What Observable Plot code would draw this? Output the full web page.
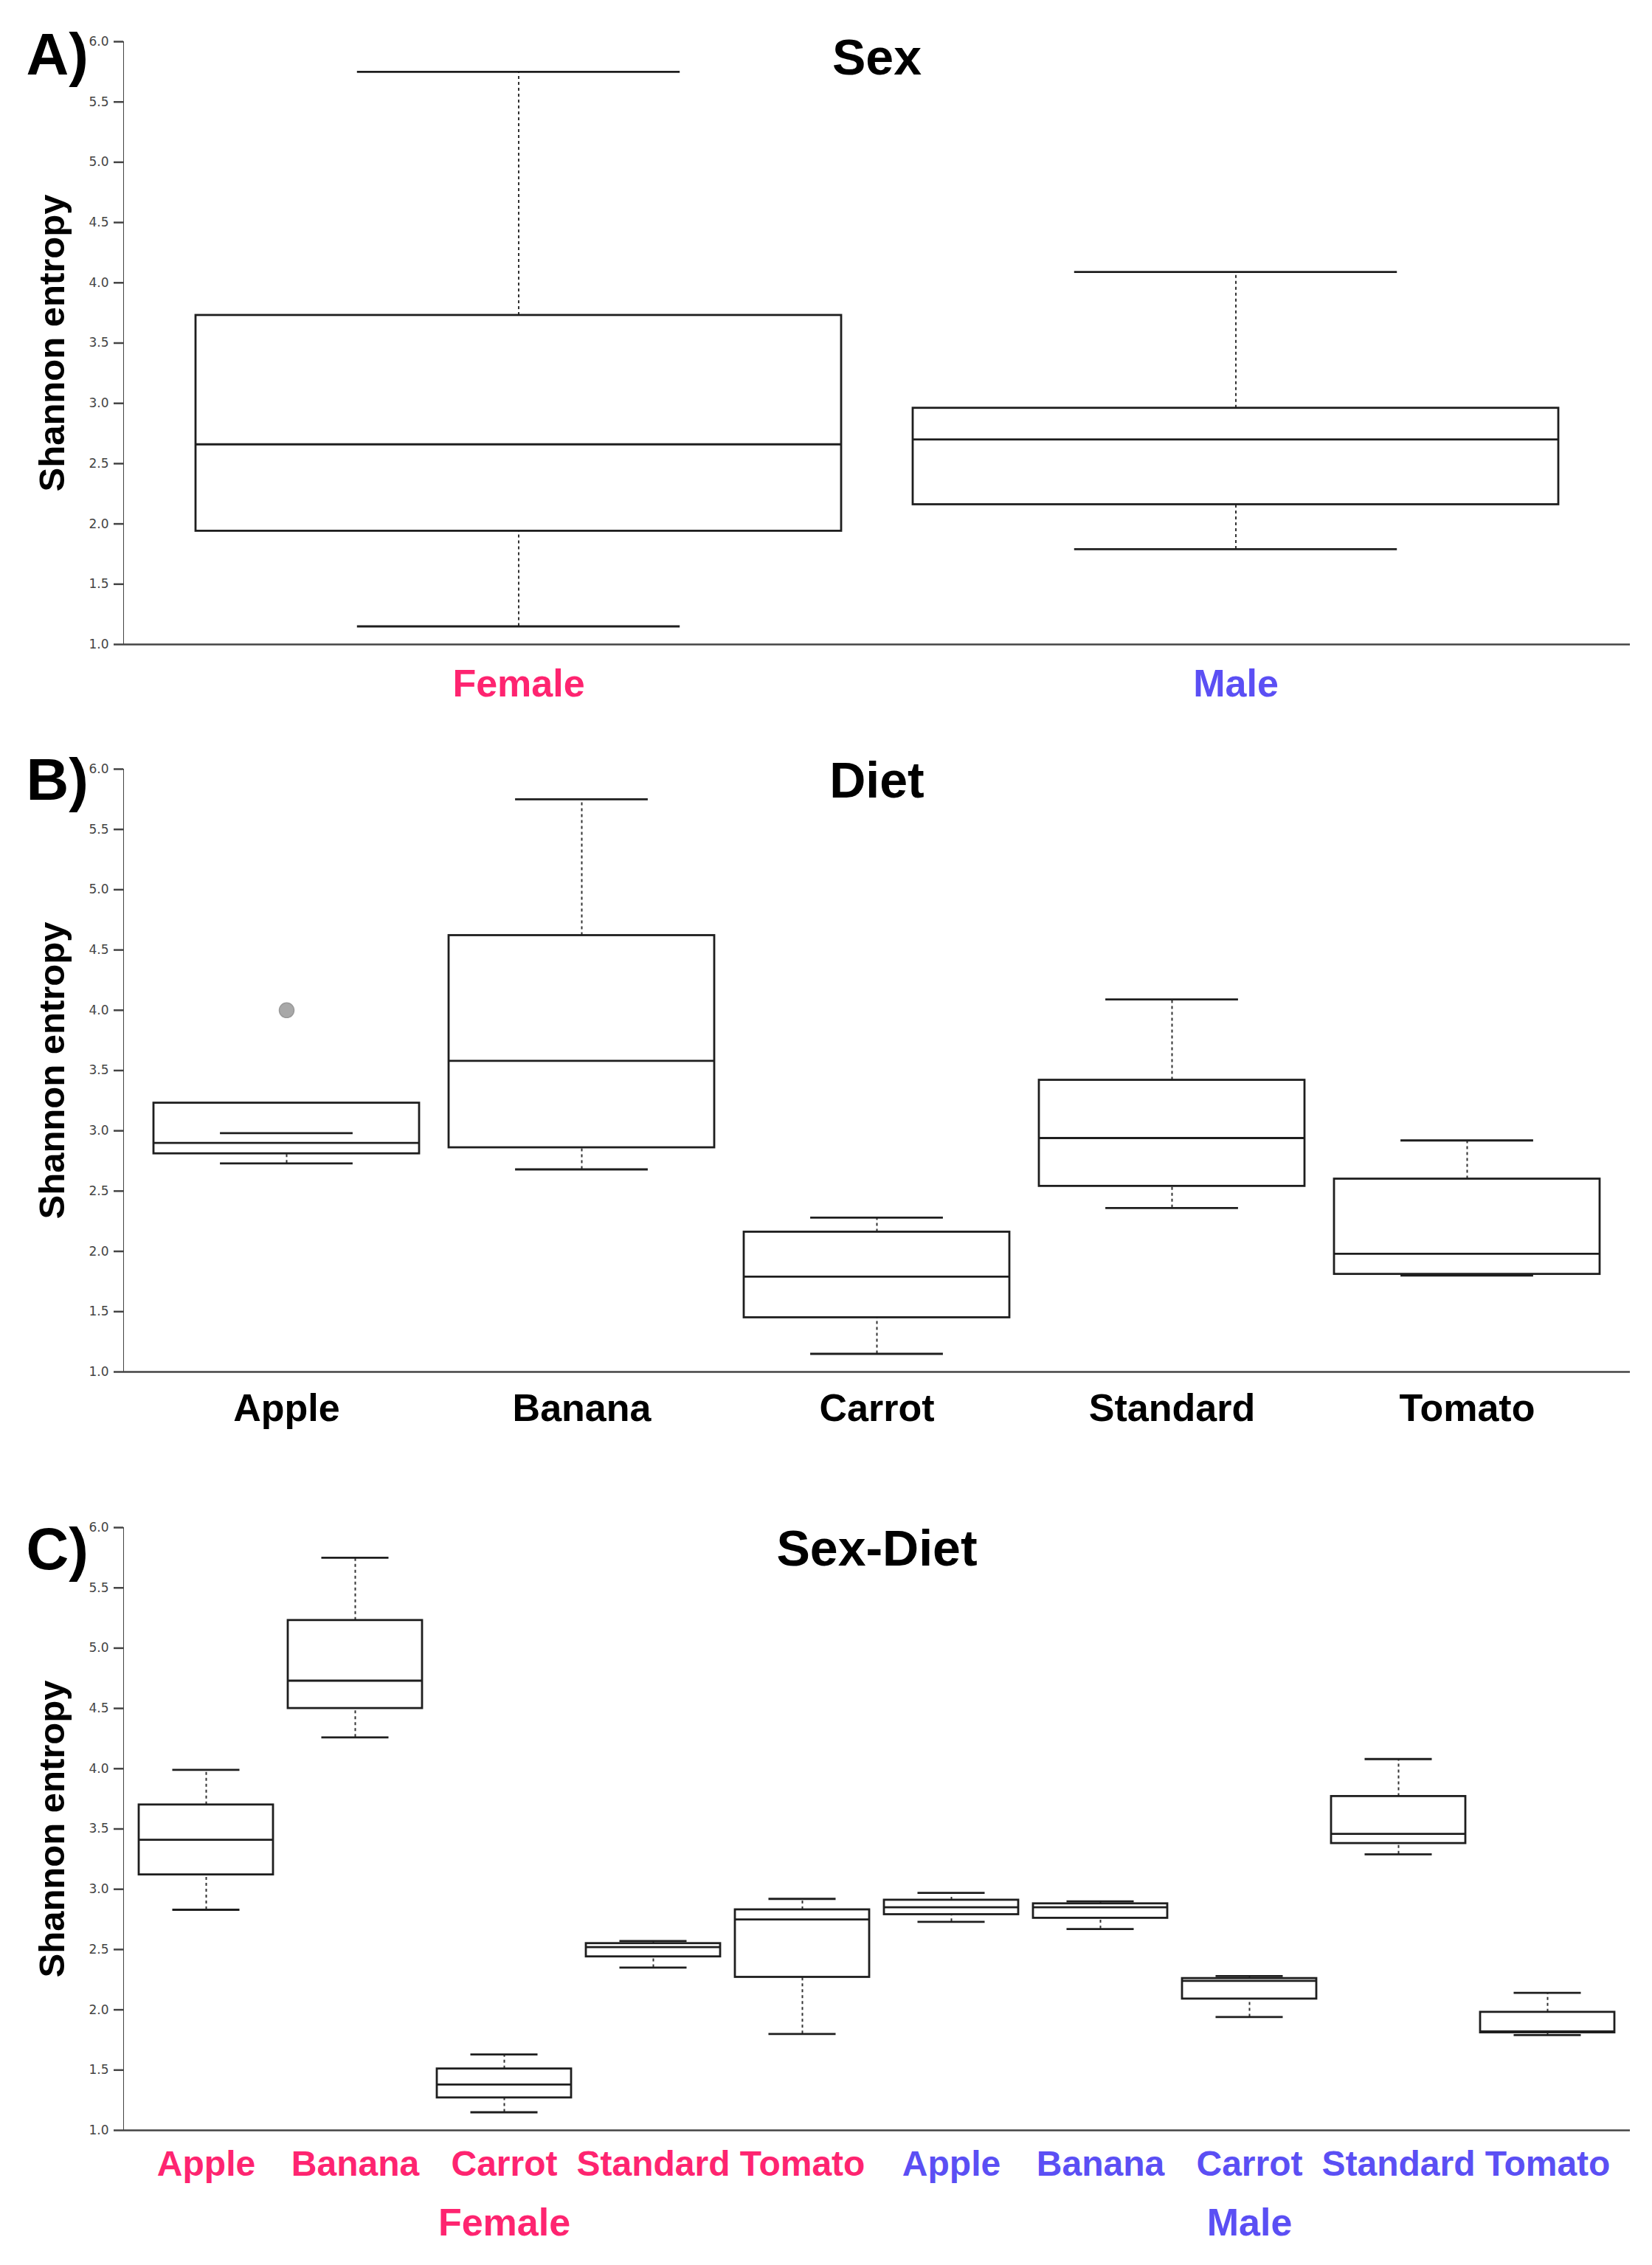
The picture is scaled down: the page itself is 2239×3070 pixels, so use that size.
<!DOCTYPE html>
<html>
<head>
<meta charset="utf-8">
<script src="https://cdn.jsdelivr.net/npm/d3@7"></script>
<script src="https://cdn.jsdelivr.net/npm/@observablehq/plot@0.6"></script>
<style>
  html, body { margin: 0; padding: 0; background: #fff; }
  #root { position: relative; width: 2239px; height: 3070px; }
  #root > svg { position: absolute; left: 0; }
  #root svg g[aria-label^="y-axis"] line,
  #root svg g[aria-label^="y-axis"] path { stroke-width: 2.5px; }
</style>
</head>
<body>
<div id="root"></div>
<script>
// ---------- data ----------
const yTicks = [1.0, 1.5, 2.0, 2.5, 3.0, 3.5, 4.0, 4.5, 5.0, 5.5, 6.0];
const axisTitle = "Shannon entropy";

// Panel A: Sex
const sexCats = ["Female", "Male"];
const sexLow  = [1.15, 1.79];
const sexQ1   = [1.94, 2.16];
const sexMed  = [2.66, 2.70];
const sexQ3   = [3.73, 2.96];
const sexHigh = [5.75, 4.09];

// Panel B: Diet
const dietCats = ["Apple", "Banana", "Carrot", "Standard", "Tomato"];
const dietLow  = [2.73, 2.68, 1.15, 2.36, 1.80];
const dietQ1   = [2.81, 2.86, 1.45, 2.54, 1.81];
const dietMed  = [2.90, 3.58, 1.79, 2.94, 1.98];
const dietQ3   = [3.23, 4.62, 2.16, 3.42, 2.60];
const dietHigh = [2.98, 5.75, 2.28, 4.09, 2.92];
const dietOutlierCats = ["Apple"];
const dietOutlierVals = [4.00];

// Panel C: Sex-Diet
const sdSex  = ["Female", "Female", "Female", "Female", "Female", "Male", "Male", "Male", "Male", "Male"];
const sdDiet = ["Apple", "Banana", "Carrot", "Standard", "Tomato", "Apple", "Banana", "Carrot", "Standard", "Tomato"];
const sdLow  = [2.83, 4.26, 1.15, 2.35, 1.80, 2.73, 2.67, 1.94, 3.29, 1.79];
const sdQ1   = [3.12, 4.50, 1.27, 2.44, 2.27, 2.79, 2.76, 2.09, 3.38, 1.81];
const sdMed  = [3.41, 4.73, 1.38, 2.52, 2.75, 2.85, 2.85, 2.24, 3.46, 1.82];
const sdQ3   = [3.70, 5.23, 1.51, 2.55, 2.83, 2.91, 2.88, 2.26, 3.77, 1.98];
const sdHigh = [3.99, 5.75, 1.63, 2.57, 2.92, 2.97, 2.90, 2.28, 4.08, 2.14];
const groupLabels = ["Female", "Male"];

const sexColor = {Female: "#fe2470", Male: "#5b4ff4"};

// ---------- layout ----------
const W = 2239, ML = 167, MR = 30;
const FONT = "Liberation Sans, Arial, Helvetica, sans-serif";

function makeRows(keys, labels, colors, low, q1, med, q3, high) {
  return keys.map((key, i) => ({key, label: labels[i], color: colors[i], low: low[i], q1: q1[i], med: med[i], q3: q3[i], high: high[i]}));
}

function panel(opts) {
  const {top, height, marginTop, marginBottom, rows, outliers = [], letter, letterDy, title, titleDy,
         labelSize, labelDy, groups = [], groupDy = 0} = opts;
  const n = rows.length;
  const plotW = W - ML - MR;
  const bw = plotW / (n - 0.1 + 0.2) * 0.9;
  const capInset = bw / 4;
  const upper = rows.filter(d => d.high > d.q3);
  const lower = rows.filter(d => d.low < d.q1);
  const stroke = "#1e1e1e";
  const sw = 2.8;
  const chart = Plot.plot({
    width: W, height, marginTop, marginBottom, marginLeft: ML, marginRight: MR,
    style: {fontFamily: "DejaVu Sans, sans-serif", fontSize: "17px", background: "white", color: "#444", overflow: "visible"},
    color: {type: "identity"},
    x: {type: "band", domain: rows.map(d => d.key), padding: 0.1, axis: null},
    y: {domain: [1, 6], ticks: yTicks, tickFormat: d3.format(".1f"), tickSize: 13, tickPadding: 7, line: true, label: null},
    marks: [
      Plot.ruleY([1], {stroke: "#444", strokeWidth: 2.5}),
      Plot.ruleX(upper, {x: "key", y1: "q3", y2: "high", stroke: "#333", strokeWidth: 2, strokeDasharray: "4,4"}),
      Plot.ruleX(lower, {x: "key", y1: "low", y2: "q1", stroke: "#333", strokeWidth: 2, strokeDasharray: "4,4"}),
      Plot.barY(rows, {x: "key", y1: "q1", y2: "q3", fill: "white", stroke, strokeWidth: sw}),
      Plot.tickY(rows, {x: "key", y: "med", stroke, strokeWidth: sw}),
      Plot.tickY(rows, {x: "key", y: "high", insetLeft: capInset, insetRight: capInset, stroke, strokeWidth: sw}),
      Plot.tickY(rows, {x: "key", y: "low", insetLeft: capInset, insetRight: capInset, stroke, strokeWidth: sw}),
      Plot.dot(outliers, {x: "key", y: "v", r: 10, fill: "#a8a8a8", stroke: "#999"}),
      Plot.text(rows, {x: "key", text: "label", fill: "color", frameAnchor: "bottom", dy: labelDy, lineAnchor: "top",
                       fontSize: labelSize, fontWeight: "bold", fontFamily: FONT}),
      Plot.text(groups, {x: "key", text: "label", fill: "color", frameAnchor: "bottom", dy: groupDy, lineAnchor: "top",
                         fontSize: 52, fontWeight: "bold", fontFamily: FONT}),
      Plot.text([axisTitle], {frameAnchor: "left", dx: -81, rotate: -90, lineAnchor: "bottom", textAnchor: "middle",
                              fontSize: 49, fontWeight: "bold", fill: "black", fontFamily: FONT}),
      Plot.text([letter], {frameAnchor: "top-left", dx: 35 - ML, dy: letterDy, lineAnchor: "bottom", textAnchor: "start",
                           fontSize: 80, fontWeight: "bold", fill: "black", fontFamily: FONT}),
      Plot.text([title], {frameAnchor: "top", dy: titleDy, lineAnchor: "bottom", textAnchor: "middle",
                          fontSize: 68, fontWeight: "bold", fill: "black", fontFamily: FONT})
    ]
  });
  chart.style.top = top + "px";
  document.getElementById("root").appendChild(chart);
}

// Panel A
const rowsA = makeRows(sexCats, sexCats, sexCats.map(s => sexColor[s]), sexLow, sexQ1, sexMed, sexQ3, sexHigh);
panel({top: 0, height: 960, marginTop: 56, marginBottom: 87, rows: rowsA,
       letter: "A)", letterDy: 44, title: "Sex", titleDy: 44, labelSize: 52, labelDy: 34});

// Panel B
const rowsB = makeRows(dietCats, dietCats, dietCats.map(() => "black"), dietLow, dietQ1, dietMed, dietQ3, dietHigh);
const outB = dietOutlierCats.map((key, i) => ({key, v: dietOutlierVals[i]}));
panel({top: 980, height: 1000, marginTop: 62, marginBottom: 121, rows: rowsB, outliers: outB,
       letter: "B)", letterDy: 41, title: "Diet", titleDy: 38, labelSize: 52, labelDy: 30});

// Panel C
const sdKeys = sdSex.map((s, i) => s + " " + sdDiet[i]);
const rowsC = makeRows(sdKeys, sdDiet, sdSex.map(s => sexColor[s]), sdLow, sdQ1, sdMed, sdQ3, sdHigh);
const groupsC = groupLabels.map(g => ({key: g + " Carrot", label: g, color: sexColor[g]}));
panel({top: 2000, height: 1070, marginTop: 70, marginBottom: 183, rows: rowsC, groups: groupsC, groupDy: 106,
       letter: "C)", letterDy: 56, title: "Sex-Diet", titleDy: 51, labelSize: 48, labelDy: 27});
</script>
</body>
</html>
